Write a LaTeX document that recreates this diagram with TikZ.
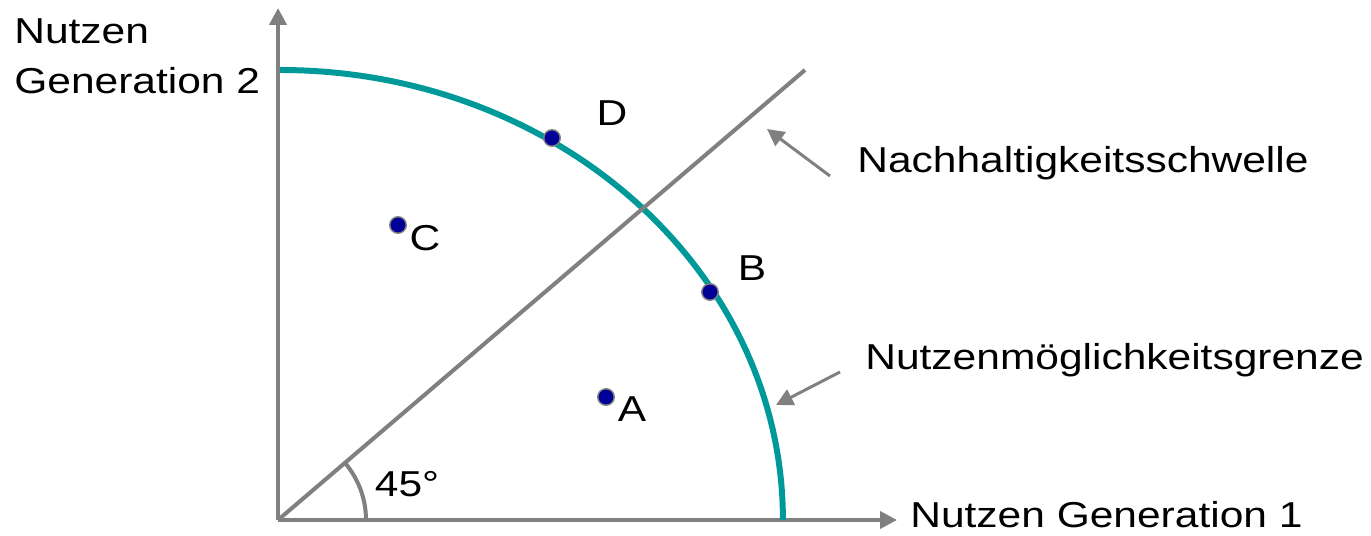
\documentclass[tikz,border=0pt]{standalone}
\usepackage{fontspec}
\setmainfont{Liberation Sans}[FakeStretch=1.18]
\usetikzlibrary{arrows.meta,positioning}

\definecolor{achsgrau}{RGB}{128,128,128}
\definecolor{grenzteal}{RGB}{0,153,153}
\definecolor{punktblau}{RGB}{0,0,150}

\tikzset{
  achse/.style={draw=achsgrau, line width=2.3pt, -{Triangle[length=0.34cm,width=0.34cm]}},
  zeiger/.style={draw=achsgrau, line width=1.7pt, -{Triangle[length=0.34cm,width=0.34cm]}},
  punkt/.style={circle, fill=punktblau, draw=achsgrau, line width=0.8pt, inner sep=0pt, minimum size=0.33cm},
  beschr/.style={font=\fontsize{20.5}{28.5}\selectfont, inner sep=0pt}
}

\begin{document}
\begin{tikzpicture}[x=0.02cm,y=-0.02cm]
\useasboundingbox (0,0) rectangle (1371,536);

% Achsen
\coordinate (O) at (278,520);
\coordinate (xend) at (897,520);
\coordinate (yend) at (278,8);
\draw[achse] (O) -- (xend);
\draw[achse] (O) -- (yend);

% Nutzenmoeglichkeitsgrenze
\coordinate (top) at (280,70);
\draw[grenzteal, line width=3.4pt] (top) arc[start angle=90, end angle=0, x radius=10.06cm, y radius=9cm];

% Nachhaltigkeitsschwelle und Winkel
\coordinate (ende) at (805,70);
\draw[achsgrau, line width=2.3pt] (O) -- (ende);
\draw[achsgrau, line width=2.3pt] (366,520) arc[start angle=0, end angle=40.5, radius=1.76cm];
\node[beschr] (winkel) at (407,484) {45°};

% Punkte
\node[punkt] (pA) at (606,397) {};
\node[punkt] (pB) at (710,292) {};
\node[punkt] (pC) at (398,225) {};
\node[punkt] (pD) at (552,138) {};
\node[beschr] (lA) at (632,409) {A};
\node[beschr] (lB) at (752,268) {B};
\node[beschr] (lC) at (425,238) {C};
\node[beschr] (lD) at (612,113) {D};

% Beschriftungen
\node[beschr, anchor=west, align=left] (ylabel) at (14,56) {Nutzen\\Generation 2};
\node[beschr, anchor=west] (xlabel) at (910,515) {Nutzen Generation 1};
\node[beschr, anchor=west] (schwelle) at (857,163) {Nachhaltigkeitsschwelle};
\node[beschr, anchor=west] (grenze) at (865,360) {Nutzenmöglichkeitsgrenze};

\coordinate (s1) at (830,176);
\coordinate (s2) at (767,129);
\coordinate (g1) at (840,372);
\coordinate (g2) at (776,405);
\draw[zeiger] (s1) -- (s2);
\draw[zeiger] (g1) -- (g2);

\end{tikzpicture}
\end{document}
